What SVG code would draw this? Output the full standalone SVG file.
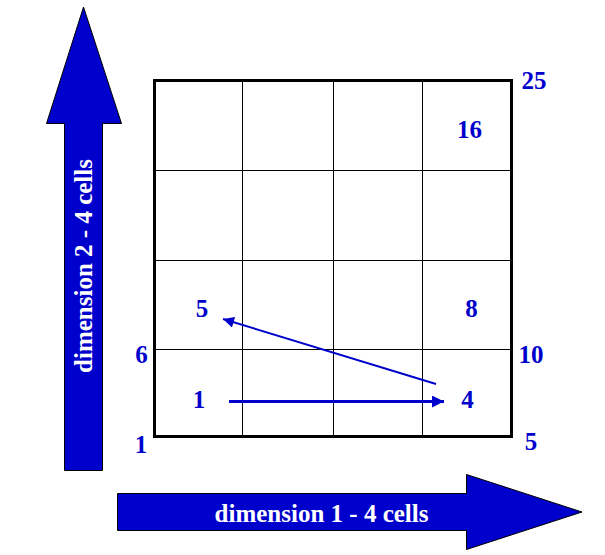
<svg xmlns="http://www.w3.org/2000/svg" width="605" height="555" viewBox="0 0 605 555">
<defs>
<style>
.lbl{font-family:"Liberation Serif","Times New Roman",serif;font-weight:bold;font-size:25px;fill:#0000CC;text-anchor:middle}
.big{fill:#0000CC;stroke:#000;stroke-width:1}
.wt{font-family:"Liberation Serif","Times New Roman",serif;font-weight:bold;font-size:25px;fill:#fff;text-anchor:middle}
.grid{stroke:#000;stroke-width:1;fill:none}
</style>
<marker id="ah" viewBox="0 0 10 10" refX="10" refY="5" markerWidth="5" markerHeight="4" orient="auto" markerUnits="strokeWidth">
<path d="M0,0 L10,5 L0,10 z" fill="#0000CC"/>
</marker>
<marker id="ah2" viewBox="0 0 10 10" refX="10" refY="5" markerWidth="6.5" markerHeight="5.5" orient="auto" markerUnits="strokeWidth">
<path d="M0,0 L10,5 L0,10 z" fill="#0000CC"/>
</marker>
</defs>
<rect width="605" height="555" fill="#fff"/>
<g id="axis-dim2">
<polygon class="big" points="64.5,470.5 102.5,470.5 102.5,123.5 121.5,123.5 83.5,7 46.5,123.5 64.5,123.5"/>
<text class="wt" transform="translate(92,266) rotate(-90)">dimension 2 - 4 cells</text>
</g>
<g id="axis-dim1">
<polygon class="big" points="117.5,493.5 466.5,493.5 466.5,474.5 582,512 466.5,549.5 466.5,530.5 117.5,530.5"/>
<text class="wt" x="321.5" y="522">dimension 1 - 4 cells</text>
</g>
<g id="grid">
<line class="grid" x1="242.5" y1="80" x2="242.5" y2="437"/>
<line class="grid" x1="333.5" y1="80" x2="333.5" y2="437"/>
<line class="grid" x1="422.5" y1="80" x2="422.5" y2="437"/>
<line class="grid" x1="154" y1="170.5" x2="512" y2="170.5"/>
<line class="grid" x1="154" y1="260.5" x2="512" y2="260.5"/>
<line class="grid" x1="154" y1="349.5" x2="512" y2="349.5"/>
<rect x="154.5" y="80.5" width="357" height="356" fill="none" stroke="#000" stroke-width="3"/>
</g>
<g id="labels">
<text class="lbl" x="534" y="89">25</text>
<text class="lbl" x="469.5" y="138">16</text>
<text class="lbl" x="202" y="317">5</text>
<text class="lbl" x="471.5" y="317">8</text>
<text class="lbl" x="141.5" y="363">6</text>
<text class="lbl" x="531" y="363">10</text>
<text class="lbl" x="199" y="408">1</text>
<text class="lbl" x="467.5" y="408">4</text>
<text class="lbl" x="141" y="453">1</text>
<text class="lbl" x="531" y="450">5</text>
</g>
<g id="connectors">
<line x1="229" y1="401.5" x2="444" y2="401.5" stroke="#0000CC" stroke-width="3" marker-end="url(#ah)"/>
<line x1="436" y1="384" x2="223" y2="319" stroke="#0000CC" stroke-width="2" marker-end="url(#ah2)"/>
</g>
</svg>
